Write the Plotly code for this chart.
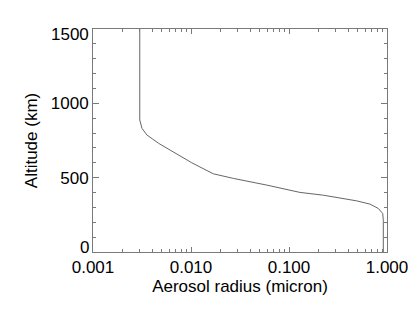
import plotly.graph_objects as go

# Aerosol radius (micron) vs altitude (km)
radius = [0.0030, 0.0030, 0.0030, 0.00316, 0.00355, 0.00467, 0.0069, 0.0102,
          0.0169, 0.0271, 0.0594, 0.1026, 0.129, 0.2245, 0.491,
          0.671, 0.815, 0.904, 0.917, 0.917]
altitude = [1500, 1000, 888, 832, 787, 731, 664, 600,
            526, 495, 450, 416, 401, 382, 344,
            322, 293, 259, 214, 0]

x_tickvals = [0.001, 0.01, 0.1, 1.0]
x_ticktext = ["0.001", "0.010", "0.100", "1.000"]
y_tickvals = [0, 500, 1000, 1500]
y_ticktext = ["0", "500", "1000", "1500"]
x_minor = [0.002, 0.003, 0.004, 0.005, 0.006, 0.007, 0.008, 0.009,
           0.02, 0.03, 0.04, 0.05, 0.06, 0.07, 0.08, 0.09,
           0.2, 0.3, 0.4, 0.5, 0.6, 0.7, 0.8, 0.9]

axis_color = "#7a7a7a"
font = dict(family="Liberation Sans, Arial, sans-serif", size=17, color="#000000")

fig = go.Figure()
fig.add_trace(go.Scatter(x=radius, y=altitude, mode="lines",
                         line=dict(color="#666666", width=1), showlegend=False))

# page body has an 8px margin, so the figure is 8px smaller and margins shifted
fig.update_layout(
    width=408, height=303,
    margin=dict(l=85, r=29, t=21, b=59),
    paper_bgcolor="white", plot_bgcolor="white",
    font=font,
)
fig.update_xaxes(
    type="log", range=[-3, 0], automargin=False,
    tickmode="array", tickvals=x_tickvals, ticktext=x_ticktext,
    showline=True, linecolor=axis_color, linewidth=1, mirror="allticks",
    ticks="inside", ticklen=5, tickcolor=axis_color, tickwidth=1,
    showgrid=False, zeroline=False,
    minor=dict(ticks="inside", ticklen=3, tickcolor=axis_color, tickwidth=1,
               tickmode="array", tickvals=x_minor, showgrid=False),
    title=dict(text="Aerosol radius (micron)", standoff=2, font=font),
    tickfont=font,
)
# interior labels are centred on their ticks; the end labels are nudged inward (IDL style)
inner_text = [""] + y_ticktext[1:-1] + [""]
fig.update_yaxes(
    range=[0, 1500], automargin=False,
    tickmode="array", tickvals=y_tickvals, ticktext=inner_text,
    showline=True, linecolor=axis_color, linewidth=1, mirror="allticks",
    ticks="inside", ticklen=6, tickcolor=axis_color, tickwidth=1,
    showgrid=False, zeroline=False,
    minor=dict(ticks="inside", ticklen=3, tickcolor=axis_color, tickwidth=1,
               dtick=100, showgrid=False),
    title=dict(text="Altitude (km)", standoff=8, font=font),
    tickfont=font,
)
for val, txt, shift in [(y_tickvals[0], y_ticktext[0], 5), (y_tickvals[-1], y_ticktext[-1], -5)]:
    fig.add_annotation(x=0, xref="paper", y=val, yref="y", text=txt, showarrow=False,
                       xanchor="right", yanchor="middle", xshift=-3, yshift=shift,
                       font=font, borderpad=0)

fig.write_html("out.html")
